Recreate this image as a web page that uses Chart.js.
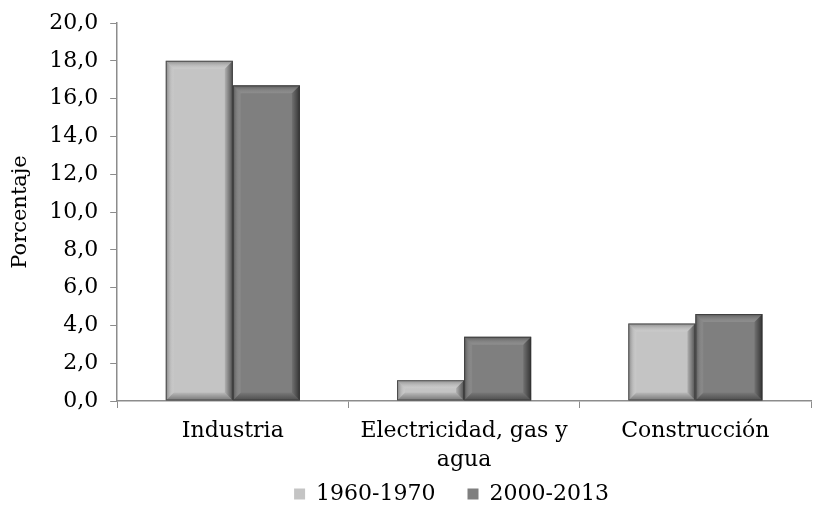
<!DOCTYPE html>
<html>
<head>
<meta charset="utf-8">
<script src="https://cdn.jsdelivr.net/npm/chart.js@4"></script>
<style>
  html, body { margin: 0; padding: 0; background: #fff; }
  #wrap { width: 813px; height: 508px; }
</style>
</head>
<body>
<div id="wrap"><canvas id="sectorChart"></canvas></div>
<script>
const categories = ['Industria', ['Electricidad, gas y', 'agua'], 'Construcción'];
const periodo1960 = [18.0, 1.1, 4.1];
const periodo2000 = [16.7, 3.4, 4.6];
const yTicks = [0, 2, 4, 6, 8, 10, 12, 14, 16, 18, 20];

// bevel look like the office chart
const bevelPlugin = {
    id: 'bevel',
    afterLayout(chart) {
        // legend sits a bit right of the canvas centre in the original
        const lg = chart.legend;
        lg.left += 44;
        lg.right += 44;
    },
    afterDatasetsDraw(chart) {
        const ctx = chart.ctx;
        chart.data.datasets.forEach((ds, i) => {
            chart.getDatasetMeta(i).data.forEach(bar => {
                const left = bar.x - bar.width / 2;
                const right = bar.x + bar.width / 2;
                const top = bar.y;
                const bottom = bar.base;
                const h = bottom - top;
                const b = Math.min(8, h / 2, bar.width / 2);
                ctx.save();
                // top edge
                let g = ctx.createLinearGradient(0, top, 0, top + b);
                g.addColorStop(0, 'rgba(0,0,0,0.3)');
                g.addColorStop(1, 'rgba(255,255,255,0.1)');
                ctx.fillStyle = g;
                ctx.beginPath();
                ctx.moveTo(left, top); ctx.lineTo(right, top);
                ctx.lineTo(right - b, top + b); ctx.lineTo(left + b, top + b);
                ctx.closePath(); ctx.fill();
                // bottom edge
                g = ctx.createLinearGradient(0, bottom - b, 0, bottom);
                g.addColorStop(0, 'rgba(0,0,0,0.05)');
                g.addColorStop(1, 'rgba(0,0,0,0.4)');
                ctx.fillStyle = g;
                ctx.beginPath();
                ctx.moveTo(left, bottom); ctx.lineTo(right, bottom);
                ctx.lineTo(right - b, bottom - b); ctx.lineTo(left + b, bottom - b);
                ctx.closePath(); ctx.fill();
                // left edge
                g = ctx.createLinearGradient(left, 0, left + b, 0);
                g.addColorStop(0, 'rgba(0,0,0,0.35)');
                g.addColorStop(1, 'rgba(255,255,255,0.05)');
                ctx.fillStyle = g;
                ctx.beginPath();
                ctx.moveTo(left, top); ctx.lineTo(left + b, top + b);
                ctx.lineTo(left + b, bottom - b); ctx.lineTo(left, bottom);
                ctx.closePath(); ctx.fill();
                // right edge
                g = ctx.createLinearGradient(right - b, 0, right, 0);
                g.addColorStop(0, 'rgba(0,0,0,0.1)');
                g.addColorStop(1, 'rgba(0,0,0,0.6)');
                ctx.fillStyle = g;
                ctx.beginPath();
                ctx.moveTo(right, top); ctx.lineTo(right - b, top + b);
                ctx.lineTo(right - b, bottom - b); ctx.lineTo(right, bottom);
                ctx.closePath(); ctx.fill();
                ctx.strokeStyle = 'rgba(50,50,50,0.7)';
                ctx.lineWidth = 1;
                ctx.strokeRect(left + 0.5, top + 0.5, bar.width - 1, h - 1);
                ctx.restore();
            });
        });
    }
};

const ctx = document.getElementById('sectorChart').getContext('2d');
const sectorChart = new Chart(ctx, {
    type: 'bar',
    data: {
        labels: categories,
        datasets: [
            {
                label: '1960-1970',
                data: periodo1960,
                backgroundColor: '#c4c4c4',
                borderWidth: 0
            },
            {
                label: '2000-2013',
                data: periodo2000,
                backgroundColor: '#7f7f7f',
                borderWidth: 0
            }
        ]
    },
    options: {
        responsive: true,
        maintainAspectRatio: false,
        animation: false,
        devicePixelRatio: 1,
        categoryPercentage: 0.58,
        barPercentage: 1.0,
        layout: { padding: { top: 3, right: 2, left: 4, bottom: -7 } },
        plugins: {
            legend: {
                position: 'bottom',
                labels: {
                    font: { family: 'DejaVu Serif', size: 22 },
                    color: '#000',
                    boxWidth: 11,
                    boxHeight: 11,
                    padding: 10,
                    generateLabels(chart) {
                        const items = Chart.defaults.plugins.legend.labels.generateLabels(chart);
                        // wider gap between the two entries
                        items.forEach((it, i) => {
                            it.lineWidth = 0;
                            if (i < items.length - 1) it.text = it.text + '\u2002\u2002';
                        });
                        return items;
                    }
                }
            },
            tooltip: { enabled: false }
        },
        scales: {
            x: {
                afterFit: axis => { axis.height = 72; },
                grid: {
                    offset: true,
                    drawOnChartArea: false,
                    drawTicks: true,
                    tickLength: 7,
                    color: '#8c8c8c'
                },
                border: { color: '#8c8c8c', width: 1.5 },
                ticks: {
                    font: { family: 'DejaVu Serif', size: 22, lineHeight: 1.3 },
                    color: '#000',
                    maxRotation: 0,
                    padding: 9
                }
            },
            y: {
                min: 0,
                max: 20,
                afterBuildTicks: axis => { axis.ticks = yTicks.map(v => ({ value: v })); },
                grid: {
                    drawOnChartArea: false,
                    drawTicks: true,
                    tickLength: 7,
                    color: '#8c8c8c'
                },
                border: { color: '#8c8c8c', width: 1.5 },
                ticks: {
                    font: { family: 'DejaVu Serif', size: 22, lineHeight: 1.0 },
                    color: '#000',
                    padding: 12,
                    callback: v => v.toFixed(1).replace('.', ',')
                },
                title: {
                    display: true,
                    text: 'Porcentaje',
                    font: { family: 'DejaVu Serif', size: 21 },
                    color: '#000',
                    padding: 4
                }
            }
        }
    },
    plugins: [bevelPlugin]
});
</script>
</body>
</html>
